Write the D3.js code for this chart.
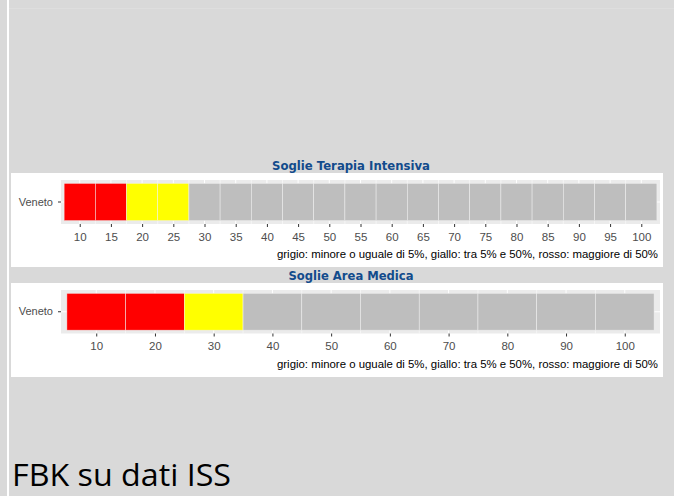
<!DOCTYPE html>
<html>
<head>
<meta charset="utf-8">
<script src="https://cdn.jsdelivr.net/npm/d3@7"></script>
<style>
  html, body { margin: 0; padding: 0; background: #d9d9d9; }
  svg { display: block; }
</style>
</head>
<body>
<svg id="chart" width="674" height="496"></svg>
<script>
// Regions shown on the y axis
const regions = ["Veneto"];

// Terapia Intensiva: tile centres (% occupancy thresholds) and colour class
const tiValues = [10, 15, 20, 25, 30, 35, 40, 45, 50, 55, 60, 65, 70, 75, 80, 85, 90, 95, 100];
const tiLevels = ["rosso", "rosso", "giallo", "giallo", "grigio", "grigio", "grigio", "grigio",
                  "grigio", "grigio", "grigio", "grigio", "grigio", "grigio", "grigio", "grigio",
                  "grigio", "grigio", "grigio"];
const tiTicks = [10, 15, 20, 25, 30, 35, 40, 45, 50, 55, 60, 65, 70, 75, 80, 85, 90, 95, 100];

// Area Medica: tile centres and colour class
const amValues = [10, 20, 30, 40, 50, 60, 70, 80, 90, 100];
const amLevels = ["rosso", "rosso", "giallo", "grigio", "grigio", "grigio", "grigio", "grigio", "grigio", "grigio"];
const amTicks = [10, 20, 30, 40, 50, 60, 70, 80, 90, 100];

const levelColours = { rosso: "#ff0000", giallo: "#ffff00", grigio: "#bebebe" };
const caption = "grigio: minore o uguale di 5%, giallo: tra 5% e 50%, rosso: maggiore di 50%";

const svg = d3.select("#chart");

// page furniture
svg.append("rect").attr("x", 0).attr("y", 0).attr("width", 674).attr("height", 496).attr("fill", "#d9d9d9");
svg.append("rect").attr("x", 9).attr("y", 8).attr("width", 665).attr("height", 1).attr("fill", "#dedede");
svg.append("rect").attr("x", 7).attr("y", 0).attr("width", 2).attr("height", 496).attr("fill", "#ffffff");

function drawPanel(cfg) {
  const g = svg.append("g");

  // title above the white card
  g.append("text")
    .attr("x", 351).attr("y", cfg.titleY)
    .attr("text-anchor", "middle")
    .attr("font-family", "DejaVu Sans, sans-serif")
    .attr("font-weight", "bold")
    .attr("font-size", 12.5)
    .attr("textLength", cfg.titleLen)
    .attr("lengthAdjust", "spacingAndGlyphs")
    .attr("fill", "#124b8c")
    .text(cfg.title);

  // white card
  g.append("rect")
    .attr("x", 11).attr("y", cfg.cardTop)
    .attr("width", 652).attr("height", cfg.cardBottom - cfg.cardTop)
    .attr("fill", "#ffffff");

  const x = d3.scaleLinear().domain(cfg.domain).range([61, 660]);
  const y = d3.scaleBand().domain(regions).range([cfg.panelTop, cfg.panelBottom]).paddingInner(0).paddingOuter(0.09);

  // panel background
  g.append("rect")
    .attr("x", 61).attr("y", cfg.panelTop)
    .attr("width", 599).attr("height", cfg.panelBottom - cfg.panelTop)
    .attr("fill", "#ebebeb");

  // minor and major gridlines
  const minor = cfg.ticks.slice(0, -1).map((t, i) => (t + cfg.ticks[i + 1]) / 2);
  g.selectAll(".minor").data(minor).enter().append("line")
    .attr("x1", d => x(d)).attr("x2", d => x(d))
    .attr("y1", cfg.panelTop).attr("y2", cfg.panelBottom)
    .attr("stroke", "#ffffff").attr("stroke-width", 0.5);
  g.selectAll(".major").data(cfg.ticks).enter().append("line")
    .attr("x1", d => x(d)).attr("x2", d => x(d))
    .attr("y1", cfg.panelTop).attr("y2", cfg.panelBottom)
    .attr("stroke", "#ffffff").attr("stroke-width", 1);
  g.append("line")
    .attr("x1", 61).attr("x2", 660)
    .attr("y1", y("Veneto") + y.bandwidth() / 2).attr("y2", y("Veneto") + y.bandwidth() / 2)
    .attr("stroke", "#ffffff").attr("stroke-width", 1);

  // tiles
  const tiles = cfg.values.map((v, i) => ({ region: regions[0], value: v, level: cfg.levels[i] }));
  g.selectAll(".tile").data(tiles).enter().append("rect")
    .attr("x", d => x(d.value - cfg.width / 2))
    .attr("width", d => x(d.value + cfg.width / 2) - x(d.value - cfg.width / 2))
    .attr("y", d => y(d.region))
    .attr("height", y.bandwidth())
    .attr("fill", d => levelColours[d.level])
    .attr("stroke", "#f2f2f2")
    .attr("stroke-opacity", 0.8)
    .attr("stroke-width", 0.6);

  // x axis
  const xAxis = d3.axisBottom(x).tickValues(cfg.ticks).tickSize(3).tickPadding(5.5);
  const ax = g.append("g").attr("transform", `translate(0,${cfg.panelBottom})`).call(xAxis);
  ax.select(".domain").remove();
  ax.selectAll("line").attr("stroke", "#333333").attr("stroke-width", 1);
  ax.selectAll("text").attr("fill", "#4d4d4d")
    .attr("font-family", "Liberation Sans, Arial, sans-serif").attr("font-size", 11.5);

  // y axis
  const yAxis = d3.axisLeft(y).tickSize(3).tickPadding(5);
  const ay = g.append("g").attr("transform", "translate(61,0)").call(yAxis);
  ay.select(".domain").remove();
  ay.selectAll("line").attr("stroke", "#333333").attr("stroke-width", 1);
  ay.selectAll("text").attr("fill", "#4d4d4d")
    .attr("font-family", "Liberation Sans, Arial, sans-serif").attr("font-size", 11);

  // caption
  g.append("text")
    .attr("x", 658).attr("y", cfg.captionY)
    .attr("text-anchor", "end")
    .attr("font-family", "Liberation Sans, Arial, sans-serif")
    .attr("font-size", 10.8)
    .attr("textLength", 381)
    .attr("lengthAdjust", "spacingAndGlyphs")
    .attr("fill", "#000000")
    .text(caption);
}

drawPanel({
  title: "Soglie Terapia Intensiva", titleY: 170, titleLen: 158,
  cardTop: 173, cardBottom: 267,
  panelTop: 180, panelBottom: 224,
  domain: [7, 103], width: 5,
  values: tiValues, levels: tiLevels, ticks: tiTicks,
  captionY: 258
});

drawPanel({
  title: "Soglie Area Medica", titleY: 280, titleLen: 125,
  cardTop: 283, cardBottom: 377,
  panelTop: 290, panelBottom: 333.5,
  domain: [4, 106], width: 10,
  values: amValues, levels: amLevels, ticks: amTicks,
  captionY: 368
});

// source note
svg.append("text")
  .attr("x", 12).attr("y", 486)
  .attr("font-family", "Open Sans, Noto Sans, sans-serif")
  .attr("font-size", 31)
  .attr("textLength", 219)
  .attr("lengthAdjust", "spacingAndGlyphs")
  .attr("fill", "#000000")
  .text("FBK su dati ISS");
</script>
</body>
</html>
